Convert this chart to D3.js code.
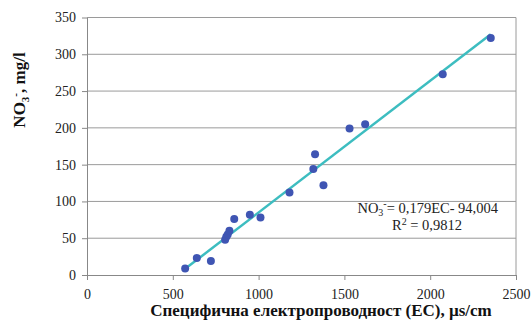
<!DOCTYPE html>
<html><head><meta charset="utf-8">
<script src="https://cdn.jsdelivr.net/npm/d3@7"></script>
<style>body{margin:0;background:#fff}svg{display:block}</style>
</head><body>
<script>
const ecValues = [572,640,722,805,812,820,830,858,949,1011,1180,1319,1329,1378,1530,1621,2073,2353];
const no3Values = [9,23,19,48,52,55,60,76,82,78,112,144,164,122,199,205,273,322];
const slope = 0.179, intercept = -94.004;
const xTicks = [0,500,1000,1500,2000,2500];
const yTicks = [0,50,100,150,200,250,300,350];

const W=532,H=324;
const svg=d3.select("body").append("svg").attr("width",W).attr("height",H);
const x=d3.scaleLinear().domain([0,2500]).range([87,516]);
const y=d3.scaleLinear().domain([0,350]).range([275,17.5]);
const font="'Liberation Serif','Times New Roman',serif";

// grid
svg.append("g").selectAll("line").data(yTicks.slice(1)).join("line")
 .attr("x1",x(0)).attr("x2",x(2500)).attr("y1",d=>y(d)).attr("y2",d=>y(d))
 .attr("stroke","#9a9a9a").attr("stroke-width",1);
// right border
svg.append("line").attr("x1",x(2500)).attr("x2",x(2500)).attr("y1",y(0)).attr("y2",y(350)).attr("stroke","#9a9a9a");

const ya=svg.append("g").attr("transform",`translate(${x(0)},0)`)
 .call(d3.axisLeft(y).tickValues(yTicks).tickFormat(d3.format("d")).tickSize(5).tickSizeOuter(0));
const xa=svg.append("g").attr("transform",`translate(0,${y(0)})`)
 .call(d3.axisBottom(x).tickValues(xTicks).tickFormat(d3.format("d")).tickSize(5).tickSizeOuter(0));
[ya,xa].forEach(a=>{
 a.attr("font-family",font).attr("font-size",14);
 a.select(".domain").attr("stroke","#888");
 a.selectAll(".tick line").attr("stroke","#888");
 a.selectAll("text").attr("font-family",font).attr("font-size",14).attr("fill","#222");
});
ya.selectAll("text").attr("dx",-3);
xa.selectAll("text").attr("dy","1.15em");

// trend line
const ext=d3.extent(ecValues);
svg.append("line").attr("x1",x(ext[0])).attr("y1",y(slope*ext[0]+intercept))
 .attr("x2",x(ext[1])).attr("y2",y(slope*ext[1]+intercept))
 .attr("stroke","#3dbdc0").attr("stroke-width",2.5);

// points
svg.append("g").selectAll("circle").data(ecValues.map((e,i)=>[e,no3Values[i]])).join("circle")
 .attr("cx",d=>x(d[0])).attr("cy",d=>y(d[1])).attr("r",4).attr("fill","#3f55b3");

// equation
const t1=svg.append("text").attr("x",498).attr("y",213).attr("text-anchor","end")
 .attr("font-family",font).attr("font-size",14.5).attr("fill","#222");
t1.append("tspan").text("NO");
t1.append("tspan").attr("font-size",10).attr("dy",3).text("3");
t1.append("tspan").attr("font-size",10).attr("dy",-9).text("-");
t1.append("tspan").attr("dy",6).text("= 0,179EC- 94,004");
const t2=svg.append("text").attr("x",427).attr("y",230).attr("text-anchor","middle")
 .attr("font-family",font).attr("font-size",14.5).attr("fill","#222");
t2.append("tspan").text("R");
t2.append("tspan").attr("font-size",10).attr("dy",-5).text("2");
t2.append("tspan").attr("dy",5).text(" = 0,9812");

// axis titles
svg.append("text").attr("x",321).attr("y",316).attr("text-anchor","middle")
 .attr("font-family",font).attr("font-size",17).attr("font-weight","bold").attr("fill","#111")
 .text("Специфична електропроводност (EC), µs/cm");
const yt=svg.append("text").attr("transform","translate(25,90) rotate(-90)").attr("text-anchor","middle")
 .attr("font-family",font).attr("font-size",17).attr("font-weight","bold").attr("fill","#111");
yt.append("tspan").text("NO");
yt.append("tspan").attr("font-size",11).attr("dy",4).text("3");
yt.append("tspan").attr("font-size",11).attr("dy",-10).text("-");
yt.append("tspan").attr("dy",6).text(", mg/l");
</script>
</body></html>
